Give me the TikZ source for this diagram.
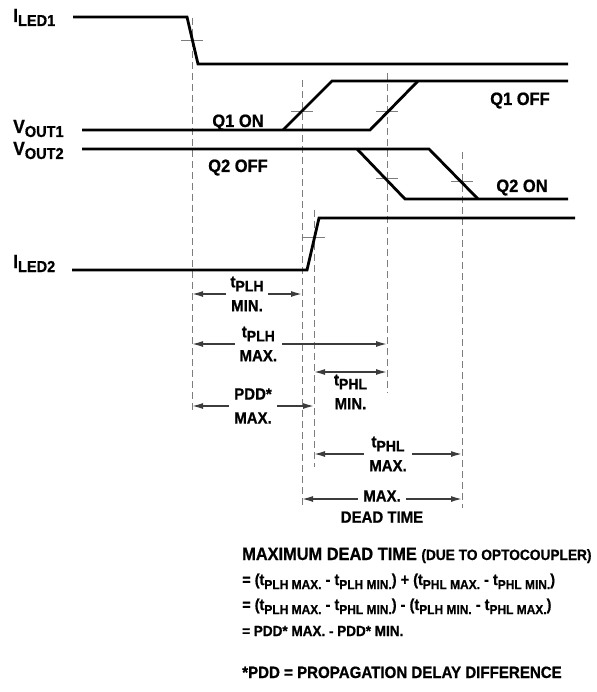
\documentclass[tikz,border=0pt]{standalone}
\usepackage{fontspec}
\setmainfont{Liberation Sans}[FakeStretch=0.92, BoldFeatures={FakeBold=0.8}]
\usetikzlibrary{arrows.meta, positioning}
\definecolor{guidegray}{RGB}{125,125,125}
\definecolor{dimgray}{RGB}{60,60,60}
\newcommand{\lowsub}[2]{\raisebox{-4pt}{\fontsize{#1}{#1}\selectfont #2}}

\begin{document}
\begin{tikzpicture}[x=1pt, y=-1pt,
    wave/.style={black, line width=2.8pt},
    guide/.style={guidegray, line width=1pt, dash pattern=on 7pt off 4pt},
    crosstick/.style={guidegray, line width=1pt},
    dimarrow/.style={dimgray, line width=1.4pt,
        {Latex[length=11pt,width=6pt]}-{Latex[length=11pt,width=6pt]}},
    dimlabel/.style={fill=white, text=black, inner xsep=5pt, inner ysep=1pt, align=center,
        font=\bfseries\fontsize{16.3}{24}\selectfont},
    signame/.style={anchor=base west, inner sep=0pt, font=\bfseries\fontsize{19}{21}\selectfont},
    qlabel/.style={anchor=base, inner sep=0pt, font=\bfseries\fontsize{17.9}{20}\selectfont},
    notetext/.style={anchor=base west, inner sep=0pt, font=\bfseries\fontsize{15.8}{18}\selectfont}]
    \useasboundingbox (0,0) rectangle (596,692);

    % dashed timing guides
    \draw[guide] (192,18) -- (192,413);
    \draw[guide] (302,80) -- (302,508);
    \draw[guide] (387,73) -- (387,393);
    \draw[guide] (314,210) -- (314,467);
    \draw[guide] (462,152) -- (462,508);

    % crossing ticks
    \foreach \x/\y in {192/41, 302/112, 387/112, 387/179, 462/182, 314/238}
        \draw[crosstick] (\x-11,\y) -- (\x+11,\y);

    % I_LED1
    \node[signame] (iled1) at (13,22) {I\lowsub{15.8}{LED1}};
    \draw[wave] (73,17) -- (187,17) -- (198,64) -- (568,64);

    % V_OUT1
    \node[signame] (vout1) at (13,133) {V\lowsub{15.8}{OUT1}};
    \draw[wave] (82,130) -- (370,130) -- (418,81);
    \draw[wave] (283,130) -- (332,81) -- (568,81);
    \node[qlabel] (q1on) at (238,127) {Q1 ON};
    \node[qlabel] (q1off) at (520,105) {Q1 OFF};

    % V_OUT2
    \node[signame] (vout2) at (13,155) {V\lowsub{15.8}{OUT2}};
    \draw[wave] (82,149) -- (429,149) -- (478,199);
    \draw[wave] (357,149) -- (405,199) -- (568,199);
    \node[qlabel] (q2off) at (238,172) {Q2 OFF};
    \node[qlabel] (q2on) at (522,192) {Q2 ON};

    % I_LED2
    \node[signame] (iled2) at (13,268) {I\lowsub{15.8}{LED2}};
    \draw[wave] (72,270) -- (307,270) -- (319,218) -- (575,218);

    % dimension ends
    \coordinate (plhminA) at (192,294); \coordinate (plhminB) at (302,294);
    \coordinate (plhmaxA) at (192,344); \coordinate (plhmaxB) at (387,344);
    \coordinate (phlminA) at (314,372); \coordinate (phlminB) at (387,372);
    \coordinate (pddA) at (192,406);    \coordinate (pddB) at (314,406);
    \coordinate (phlmaxA) at (314,454); \coordinate (phlmaxB) at (462,454);
    \coordinate (deadA) at (302,499);   \coordinate (deadB) at (462,499);

    % dimension arrows
    \draw[dimarrow] (plhminA) -- (plhminB)
        node[dimlabel, midway] (plhminlbl) {t\lowsub{15.2}{PLH}\\MIN.};
    \draw[dimarrow] (plhmaxA) -- (plhmaxB)
        node[dimlabel, pos=0.34] (plhmaxlbl) {t\lowsub{15.2}{PLH}\\MAX.};
    \draw[dimarrow] (phlminA) -- (phlminB)
        node[dimlabel, midway, below=1pt, fill=none] (phlminlbl) {t\lowsub{15.2}{PHL}\\MIN.};
    \draw[dimarrow] (pddA) -- (pddB)
        node[dimlabel, midway] (pddlbl) {PDD*\\MAX.};
    \draw[dimarrow] (phlmaxA) -- (phlmaxB)
        node[dimlabel, midway] (phlmaxlbl) {t\lowsub{15.2}{PHL}\\MAX.};
    \draw[dimarrow] (deadA) -- (deadB)
        node[dimlabel, midway, yshift=3pt] (deadlbl) {MAX.};
    \node[dimlabel, fill=none, below=7pt of deadlbl] (deadlbl2) {DEAD TIME};

    % notes
    \node[notetext, font=\bfseries\fontsize{17.8}{20}\selectfont] (title) at (242,560)
        {MAXIMUM DEAD TIME {\fontsize{14.9}{17}\selectfont (DUE TO OPTOCOUPLER)}};
    \node[notetext] (eqone) at (242,585)
        {= (t\lowsub{13}{PLH MAX.} - t\lowsub{13}{PLH MIN.}) + (t\lowsub{13}{PHL MAX.} - t\lowsub{13}{PHL MIN.})};
    \node[notetext] (eqtwo) at (242,610)
        {= (t\lowsub{13}{PLH MAX.} - t\lowsub{13}{PHL MIN.}) - (t\lowsub{13}{PLH MIN.} - t\lowsub{13}{PHL MAX.})};
    \node[notetext, font=\bfseries\fontsize{14.7}{17}\selectfont] (eqthree) at (242,636)
        {= PDD* MAX. - PDD* MIN.};
    \node[notetext, font=\bfseries\fontsize{16.4}{18}\selectfont] (footnote) at (242,678)
        {*PDD = PROPAGATION DELAY DIFFERENCE};
\end{tikzpicture}
\end{document}
